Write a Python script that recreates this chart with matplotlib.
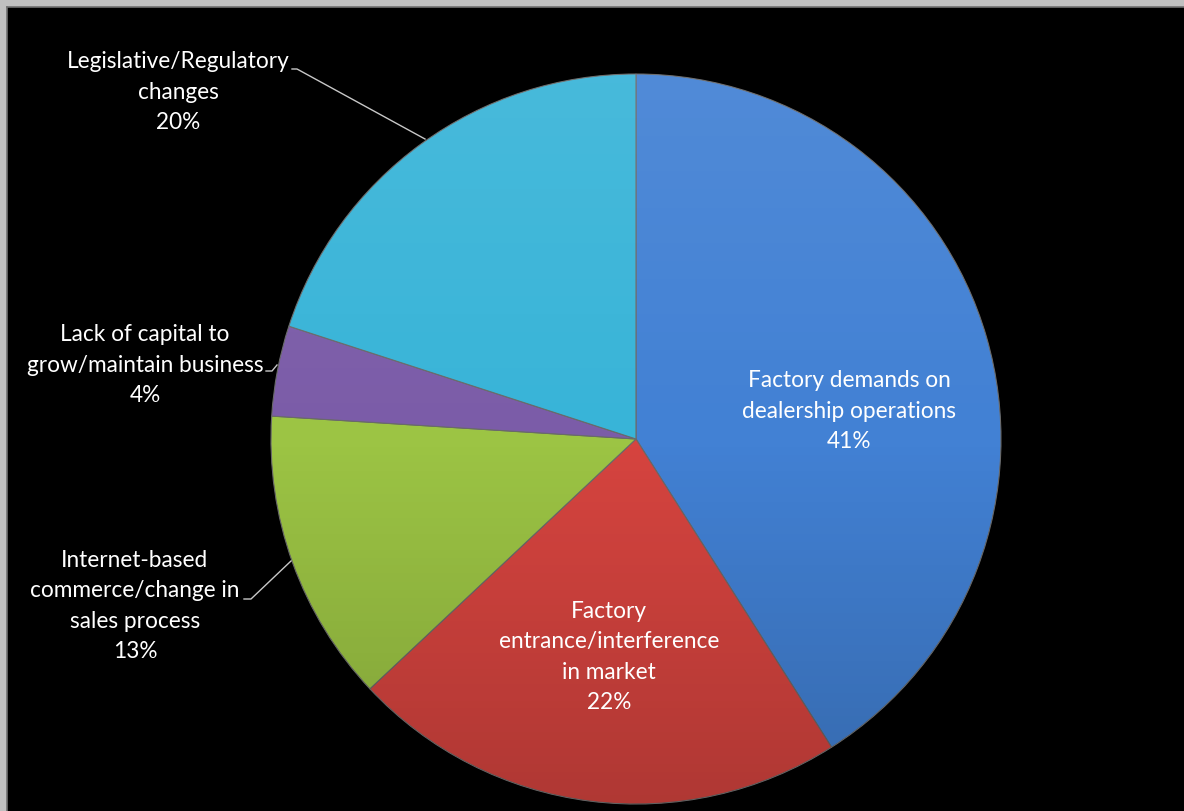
import matplotlib.pyplot as plt
import numpy as np
from matplotlib.patches import Circle

# Data
labels = [
    "Factory demands on\ndealership operations",
    "Factory\nentrance/interference\nin market",
    "Internet-based\ncommerce/change in\nsales process",
    "Lack of capital to\ngrow/maintain business",
    "Legislative/Regulatory\nchanges",
]
shares = [41, 22, 13, 4, 20]
colors = ["#4281d4", "#d6443f", "#9cc444", "#7b5ca8", "#38b4d8"]

# Layout in pixels (reference image), pie centre and radius
W, H = 1184, 812
CX, CY, R = 636, 440, 365
FRAME_L, FRAME_T = 7, 8


def to_unit(px, py):
    """Pixel position -> pie units (radius 1, centre at origin)."""
    return (px - CX) / R, (CY - py) / R


def main():
    fig = plt.figure(figsize=(W / 100, H / 100), dpi=100, facecolor="#c0c0c0")
    ax = fig.add_axes([FRAME_L / W, 0, 1 - FRAME_L / W, 1 - FRAME_T / H])

    wedges, _ = ax.pie(shares, colors=colors, startangle=90, counterclock=False,
                       radius=1, wedgeprops=dict(edgecolor="#6a6a6a", linewidth=0.8))

    # pie() switches the frame off, bring the black background back
    ax.set_frame_on(True)
    ax.set_facecolor("black")
    ax.set_xticks([])
    ax.set_yticks([])
    for name, sp in ax.spines.items():
        sp.set_visible(name in ("top", "left"))
        sp.set_color("#707070")
        sp.set_linewidth(1.2)

    # vertical light/dark shading over the pie
    n = 256
    grad = np.zeros((n, 2, 4))
    t = np.linspace(0, 1, n)[:, None]
    grad[..., :3] = np.where(t[..., None] < 0.5, 1.0, 0.0)
    grad[..., 3] = np.abs(t - 0.5) * 2 * np.where(t < 0.5, 0.08, 0.18)
    img = ax.imshow(grad, extent=(-1, 1, -1, 1), origin="upper", aspect="auto", zorder=3)
    img.set_clip_path(Circle((0, 0), 1, transform=ax.transData))
    ax.set_xlim((FRAME_L - CX) / R, (W - CX) / R)
    ax.set_ylim((CY - H) / R, (CY - FRAME_T) / R)

    pcts = [f"{s}%" for s in shares]
    label_px = [(849, 411), (609, 657), (135, 606), (145, 365), (178, 92)]
    font = dict(family=["Lato", "DejaVu Sans"], fontsize=16.3, color="white",
                ha="center", va="center", linespacing=1.54, zorder=5)
    for lab, pct, (px, py) in zip(labels, pcts, label_px):
        x, y = to_unit(px, py)
        ax.text(x, y, f"{lab}\n{pct}", **font)

    # leader lines for the outside labels
    lc = dict(color="#c8c8c8", linewidth=1.0, zorder=4)
    for pts in ([(292, 70), (297, 70), (425, 140)],
                [(266, 372), (272, 372), (277, 366)],
                [(244, 600), (251, 600), (291, 562)]):
        xs, ys = zip(*[to_unit(*p) for p in pts])
        ax.plot(xs, ys, **lc)

    fig.savefig("out.png", dpi=100, facecolor=fig.get_facecolor())


if __name__ == "__main__":
    main()
